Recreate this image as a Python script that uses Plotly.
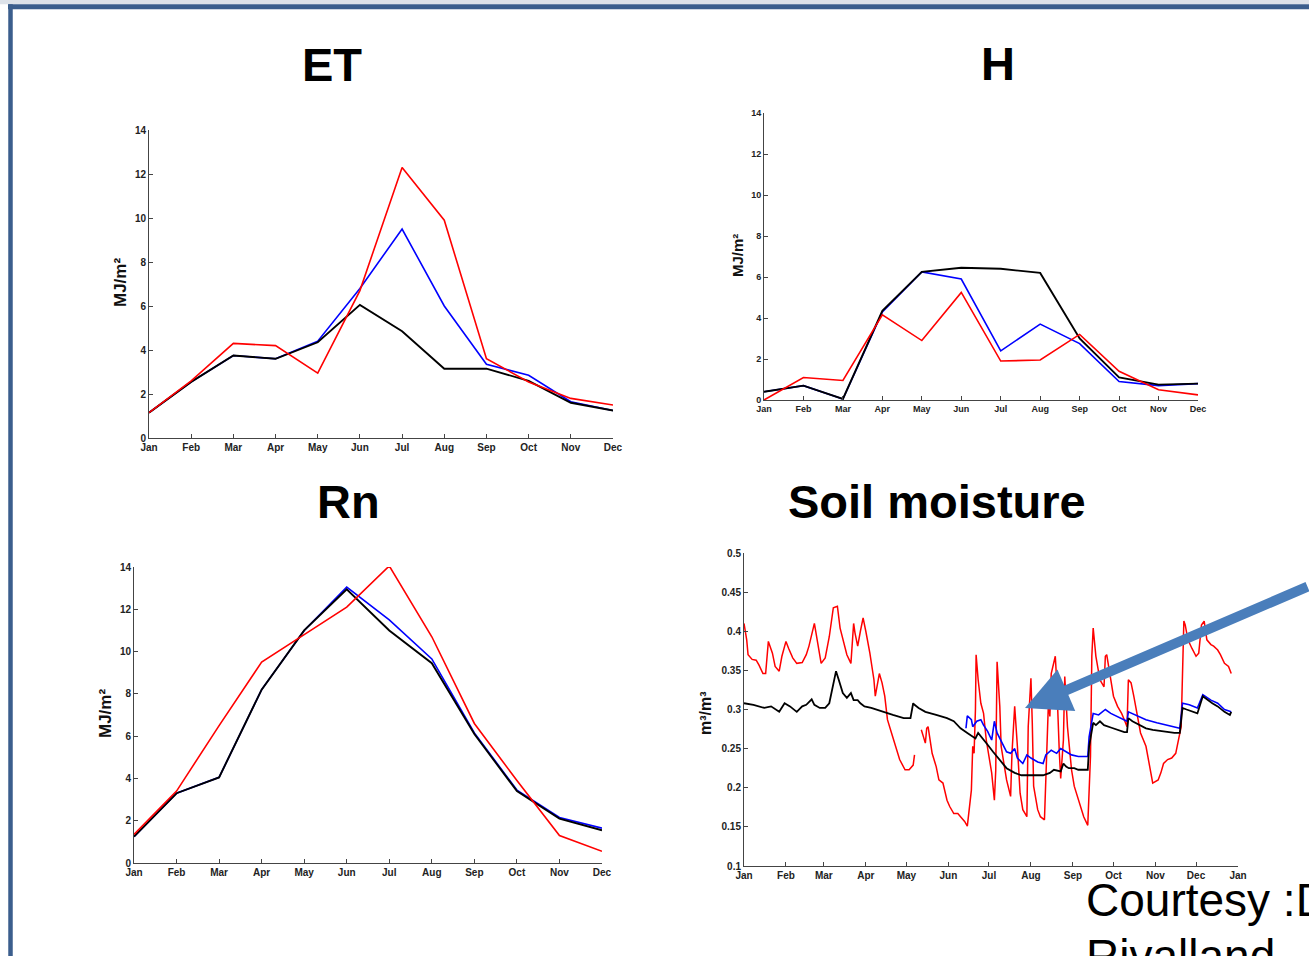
import plotly.graph_objects as go

W, H = 1309, 956

months = ["Jan", "Feb", "Mar", "Apr", "May", "Jun", "Jul", "Aug", "Sep", "Oct", "Nov", "Dec"]

# ET (MJ/m2)
et_red = [1.15, 2.6, 4.3, 4.2, 2.95, 6.7, 12.3, 9.9, 3.6, 2.55, 1.8, 1.5]
et_blue = [1.15, 2.55, 3.75, 3.6, 4.4, 6.8, 9.5, 6.0, 3.35, 2.85, 1.65, 1.25]
et_black = [1.15, 2.55, 3.75, 3.6, 4.35, 6.05, 4.85, 3.15, 3.15, 2.6, 1.6, 1.25]

# H (MJ/m2)
h_red = [0.0, 1.1, 0.95, 4.15, 2.9, 5.25, 1.9, 1.95, 3.2, 1.4, 0.5, 0.25]
h_blue = [0.4, 0.7, 0.05, 4.3, 6.25, 5.9, 2.4, 3.7, 2.75, 0.9, 0.7, 0.8]
h_black = [0.4, 0.7, 0.05, 4.35, 6.25, 6.45, 6.4, 6.2, 3.0, 1.1, 0.75, 0.8]

# Rn (MJ/m2)
rn_red = [1.35, 3.4, 6.5, 9.5, 10.8, 12.1, 14.05, 10.7, 6.6, 3.9, 1.3, 0.55]
rn_blue = [1.25, 3.3, 4.05, 8.2, 11.0, 13.05, 11.5, 9.65, 6.15, 3.45, 2.15, 1.65]
rn_black = [1.25, 3.3, 4.05, 8.2, 11.0, 12.95, 11.0, 9.45, 6.1, 3.4, 2.1, 1.55]

# Soil moisture (m3/m3), x = day of year
sm_red_day = [0, 2, 3, 6, 9, 11, 14, 16, 18, 21, 23, 26, 28, 31, 33, 36, 39, 43, 46, 48,
              52, 54, 57, 60, 63, 66, 69, 71, 73, 76, 79, 81, 82, 84, 86, 88, 90, 93, 96, 97,
              100, 102, 104, 106, 109, 112, 115, 119, 122, 125, 126, None,
              131, 133, 134, 135, 136, 139, 142, 144, 147, 150, 152, 155, 158, 160, 163, 165,
              168, 169, 170, 171, 171.5, 173, 174, 175, 177, 179, 183, 185, 186, 187, 189, 190,
              194, 197, 198, 200, 202, 204, 206, 209, 210, 212, 213, 214, 217, 219, 222, 223,
              225, 226, 227, 230, 231, 233, 234, 236, 237, 239, 242, 244, 248, 251, 254, 256,
              257, 258, 260, 263, 266, 267, 268, 271, 273, 276, 279, 281, 283, 284, 286, 288,
              291, 293, 297, 300, 302, 306, 308, 310, 313, 316, 319, 323, 325, 326, 328, 331,
              334, 336, 338, 340, 342, 345, 347, 350, 352, 355, 358, 360]
sm_red_val = [0.410, 0.389, 0.370, 0.364, 0.363, 0.357, 0.346, 0.346, 0.387, 0.372, 0.355, 0.349,
              0.368, 0.387, 0.378, 0.366, 0.359, 0.360, 0.370, 0.381,
              0.410, 0.389, 0.359, 0.366, 0.393, 0.430, 0.432, 0.404, 0.389, 0.370, 0.359, 0.410,
              0.398, 0.381, 0.400, 0.417, 0.400, 0.372, 0.338, 0.317,
              0.346, 0.334, 0.317, 0.287, 0.270, 0.253, 0.236, 0.223, 0.223, 0.229, 0.242, None,
              0.274, 0.261, 0.257, 0.276, 0.278, 0.244, 0.227, 0.210, 0.206, 0.184, 0.176, 0.167,
              0.167, 0.163, 0.157, 0.151,
              0.197, 0.253, 0.244, 0.300, 0.370, 0.338, 0.325, 0.308, 0.295, 0.261, 0.219, 0.184,
              0.222, 0.361, 0.304, 0.253,
              0.210, 0.189, 0.244, 0.304, 0.253, 0.193, 0.172, 0.163, 0.278, 0.340, 0.283, 0.202,
              0.172, 0.163, 0.159, 0.219,
              0.312, 0.291, 0.346, 0.368, 0.338, 0.244, 0.212, 0.261, 0.342, 0.278, 0.223, 0.202,
              0.180, 0.163, 0.152, 0.240,
              0.368, 0.404, 0.368, 0.338, 0.329, 0.368, 0.370, 0.338, 0.317, 0.304, 0.295, 0.287,
              0.278, 0.338, 0.334, 0.317,
              0.291, 0.270, 0.253, 0.227, 0.206, 0.210, 0.219, 0.231, 0.236, 0.238, 0.244, 0.278,
              0.413, 0.408, 0.389, 0.378,
              0.368, 0.372, 0.408, 0.413, 0.389, 0.383, 0.381, 0.376, 0.370, 0.359, 0.355, 0.346]

sm_black_day = [0, 7, 15, 20, 26, 30, 34, 39, 43, 46, 50, 52, 56, 60, 63, 65, 68, 70, 73, 76,
                79, 81, 84, 86, 89, 94, 102, 110, 118, 123, 125, 126, 129, 134, 142, 150, 155,
                160, 165, 171, 173, 176, 180, 184, 189, 194, 200, 205, 213, 221, 226, 229, 234,
                236, 238, 240, 244, 247, 254, 255, 258, 260, 263, 266, 271, 276, 281, 283, 284,
                287, 292, 297, 302, 310, 318, 322, 324, 327, 331, 335, 339, 342, 346, 350, 355,
                359, 360]
sm_black_val = [0.308, 0.306, 0.302, 0.304, 0.297, 0.308, 0.304, 0.297, 0.304, 0.306, 0.313, 0.306,
                0.302, 0.302, 0.308, 0.325, 0.349, 0.338, 0.321, 0.315,
                0.321, 0.312, 0.312, 0.308, 0.304, 0.302, 0.297, 0.293, 0.289, 0.289, 0.308, 0.306,
                0.302, 0.297, 0.293, 0.289, 0.285,
                0.276, 0.270, 0.263, 0.270, 0.263, 0.255, 0.246, 0.236, 0.225, 0.219, 0.216, 0.216,
                0.216, 0.219, 0.223, 0.221,
                0.231, 0.227, 0.225, 0.225, 0.223, 0.223, 0.253, 0.283, 0.280, 0.285, 0.280, 0.277,
                0.274, 0.271, 0.271, 0.289,
                0.285, 0.280, 0.276, 0.274, 0.272, 0.270, 0.270, 0.302, 0.300, 0.297, 0.295, 0.317,
                0.313, 0.308, 0.304, 0.297,
                0.293, 0.297]

sm_blue_day = [164, 165, 168, 169, 172, 175, 177, 180, 183, 185, 187, 190, 194, 197, 200, 202,
               206, 209, 212, 217, 221, 223, 227, 231, 234, 238, 242, 247, 254, 255, 258, 262,
               267, 271, 276, 281, 283, 284, 289, 297, 305, 313, 322, 324, 329, 335, 339, 345,
               350, 355, 360]
sm_blue_val = [0.276, 0.292, 0.287, 0.278, 0.285, 0.287, 0.280, 0.272, 0.261, 0.285, 0.270, 0.259,
               0.246, 0.244, 0.250, 0.238, 0.231, 0.242, 0.238, 0.233, 0.231, 0.242, 0.248, 0.244,
               0.250, 0.246, 0.242, 0.240, 0.240, 0.265, 0.295, 0.293, 0.300, 0.295, 0.291, 0.287,
               0.285, 0.297, 0.293, 0.287, 0.283, 0.280, 0.276, 0.308, 0.306, 0.302, 0.319, 0.312,
               0.308, 0.300, 0.297]

sm_tick_days = [0, 31, 59, 90, 120, 151, 181, 212, 243, 273, 304, 334, 365]
sm_tick_text = months + ["Jan"]

titles = ["ET", "H", "Rn", "Soil moisture"]

RED, BLUE, BLACK = "#ff0000", "#0000ff", "#000000"
AX = "#444444"
FONT = "Liberation Sans"


def dxp(a, b):
    return [a / W, b / W]


def dyp(top, bottom):
    return [1 - bottom / H, 1 - top / H]


fig = go.Figure()


def add_month_panel(idx, red, blue, black):
    xa = "x" if idx == 1 else f"x{idx}"
    ya = "y" if idx == 1 else f"y{idx}"
    for vals, col, w in [(blue, BLUE, 1.6), (black, BLACK, 1.9), (red, RED, 1.6)]:
        fig.add_trace(go.Scatter(x=months, y=vals, mode="lines", xaxis=xa, yaxis=ya,
                                 line=dict(color=col, width=w), showlegend=False,
                                 hoverinfo="skip"))


add_month_panel(1, et_red, et_blue, et_black)
add_month_panel(2, h_red, h_blue, h_black)
add_month_panel(3, rn_red, rn_blue, rn_black)

fig.add_trace(go.Scatter(x=sm_red_day, y=sm_red_val, mode="lines", xaxis="x4", yaxis="y4",
                         line=dict(color=RED, width=1.5), showlegend=False, connectgaps=False,
                         hoverinfo="skip"))
fig.add_trace(go.Scatter(x=sm_blue_day, y=sm_blue_val, mode="lines", xaxis="x4", yaxis="y4",
                         line=dict(color=BLUE, width=1.6), showlegend=False, hoverinfo="skip"))
fig.add_trace(go.Scatter(x=sm_black_day, y=sm_black_val, mode="lines", xaxis="x4", yaxis="y4",
                         line=dict(color=BLACK, width=1.8), showlegend=False, hoverinfo="skip"))


def axis_common(size):
    return dict(showline=True, linecolor=AX, linewidth=1, ticks="inside", ticklen=4,
                tickcolor=AX, tickwidth=1, showgrid=False, zeroline=False, automargin=False,
                tickfont=dict(family=FONT, size=size, color="#222222", weight="bold"))


panels = {
    1: dict(x=(149, 613), y=(130, 438), fs=10),
    2: dict(x=(764, 1198), y=(113, 400), fs=9),
    3: dict(x=(134, 602), y=(567, 863), fs=10),
    4: dict(x=(744, 1238), y=(553, 866), fs=10),
}

layout_axes = {}
for i, p in panels.items():
    xk = "xaxis" if i == 1 else f"xaxis{i}"
    yk = "yaxis" if i == 1 else f"yaxis{i}"
    xa = axis_common(p["fs"])
    ya = axis_common(p["fs"])
    xa.update(domain=dxp(*p["x"]), anchor="y" if i == 1 else f"y{i}")
    ya.update(domain=dyp(*p["y"]), anchor="x" if i == 1 else f"x{i}")
    if i < 4:
        xa.update(type="category", categoryarray=months, range=[0, 11])
        ya.update(range=[0, 14], tickvals=[0, 2, 4, 6, 8, 10, 12, 14])
    else:
        xa.update(range=[0, 365], tickvals=sm_tick_days, ticktext=sm_tick_text)
        ya.update(range=[0.1, 0.5], tickvals=[0.1, 0.15, 0.2, 0.25, 0.3, 0.35, 0.4, 0.45, 0.5],
                  ticktext=["0.1", "0.15", "0.2", "0.25", "0.3", "0.35", "0.4", "0.45", "0.5"])
    layout_axes[xk] = xa
    layout_axes[yk] = ya

fig.update_layout(**layout_axes)

ann = []
title_pos = [(332, 65), (998, 64), (348, 502), (937, 502)]
for t, (px, py) in zip(titles, title_pos):
    ann.append(dict(text=t, x=px / W, y=1 - py / H, xref="paper", yref="paper",
                    xanchor="center", yanchor="middle", showarrow=False,
                    font=dict(family=FONT, size=47, color="black", weight="bold")))

ylabels = [("MJ/m²", 121, 283, 17), ("MJ/m²", 737, 256, 15), ("MJ/m²", 105, 714, 17),
           ("m³/m³", 705, 713, 16)]
for t, px, py, fs in ylabels:
    ann.append(dict(text=t, x=px / W, y=1 - py / H, xref="paper", yref="paper",
                    xanchor="center", yanchor="middle", showarrow=False, textangle=-90,
                    font=dict(family=FONT, size=fs, color="#111111", weight="bold")))

# Arrow pointing into the soil moisture panel
ann.append(dict(x=1025 / W, y=1 - 708 / H, xref="paper", yref="paper", text="",
                showarrow=True, ax=300, ay=-122, axref="pixel", ayref="pixel",
                arrowhead=2, arrowsize=0.9, arrowwidth=10, arrowcolor="#4a7ebb"))

ann.append(dict(text="Courtesy :Dr. V.", x=1084 / W, y=1 - 900 / H, xref="paper", yref="paper",
                xanchor="left", yanchor="middle", showarrow=False,
                font=dict(family=FONT, size=46, color="black")))
ann.append(dict(text="Rivalland", x=1084 / W, y=1 - 956 / H, xref="paper", yref="paper",
                xanchor="left", yanchor="middle", showarrow=False,
                font=dict(family=FONT, size=46, color="black")))

shapes = [
    dict(type="rect", xref="paper", yref="paper", x0=0, x1=1, y0=1 - 4.3 / H, y1=1,
         fillcolor="#dde2e9", line=dict(width=0), layer="below"),
    dict(type="line", xref="paper", yref="paper", x0=8 / W, x1=1, y0=1 - 6.7 / H, y1=1 - 6.7 / H,
         line=dict(color="#3b5e8d", width=5)),
    dict(type="line", xref="paper", yref="paper", x0=10.5 / W, x1=10.5 / W, y0=0, y1=1 - 4.3 / H,
         line=dict(color="#3b5e8d", width=4.5)),
]

fig.update_layout(width=W, height=H, margin=dict(l=0, r=0, t=0, b=0, pad=0),
                  paper_bgcolor="white", plot_bgcolor="white",
                  annotations=ann, shapes=shapes, showlegend=False)

fig.write_html("out.html", post_script="document.body.style.margin='0px';",
               config={"displayModeBar": False})
